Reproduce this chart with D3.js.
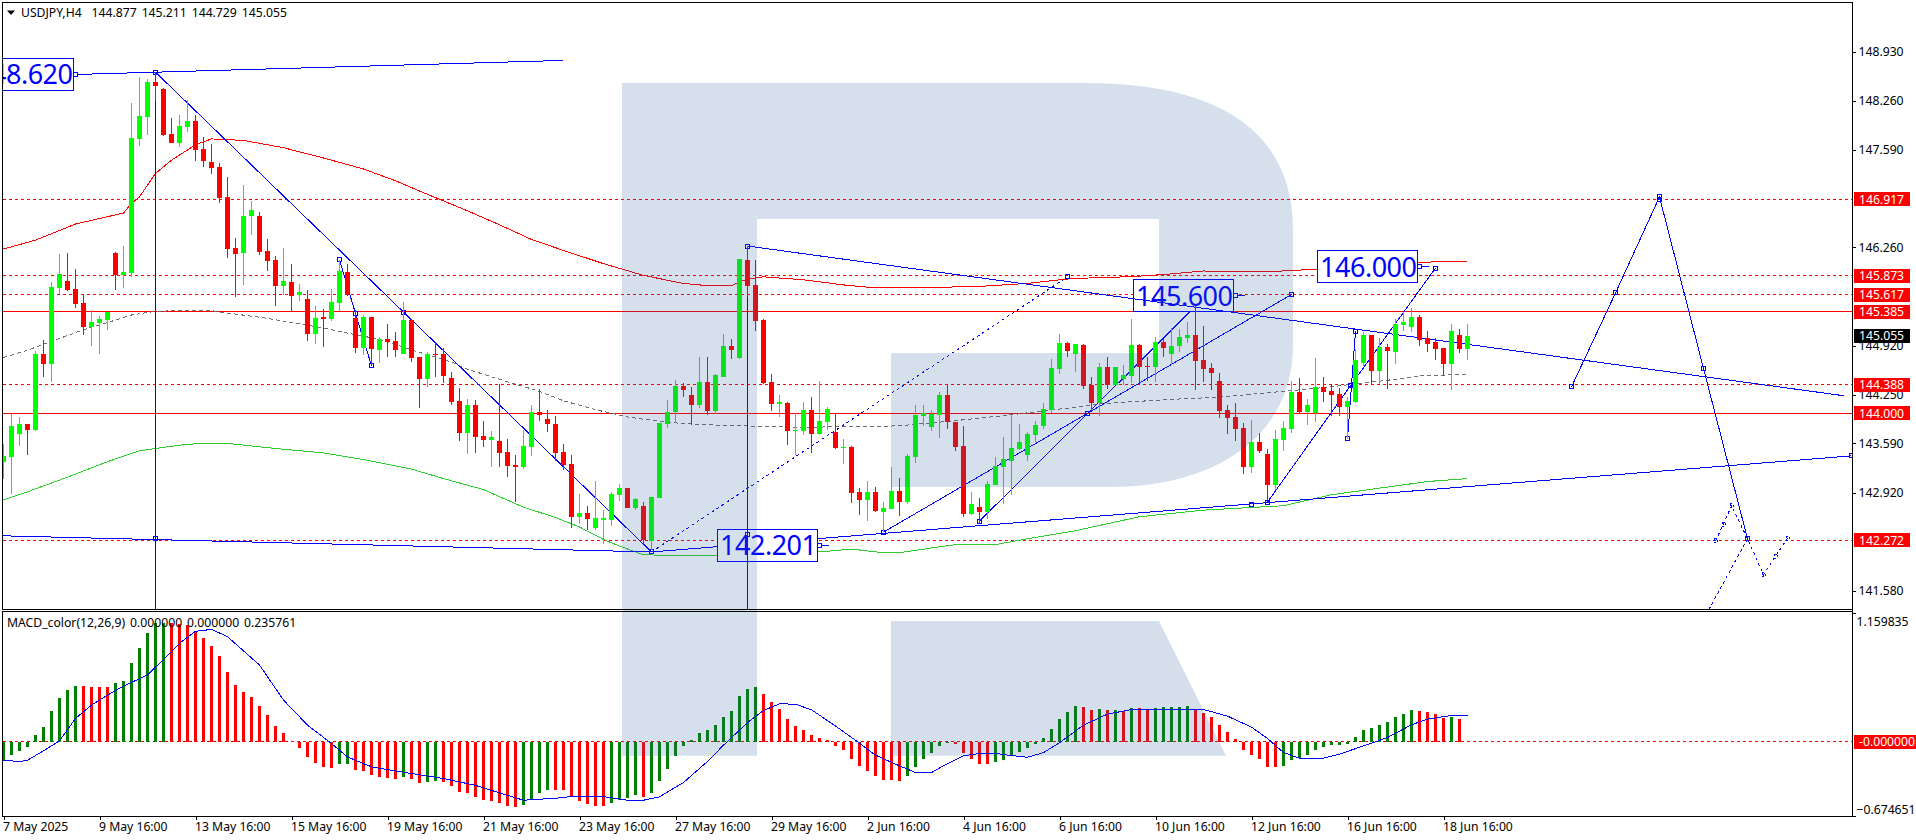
<!DOCTYPE html>
<html><head><meta charset="utf-8">
<script src="https://cdn.jsdelivr.net/npm/d3@7/dist/d3.min.js"></script>
<style>html,body{margin:0;padding:0;background:#fff;overflow:hidden}svg{display:block}
text{font-family:"Noto Sans",sans-serif;font-size:12.2px;letter-spacing:0;fill:#000;white-space:pre}</style>
</head><body><div id="c"></div>
<script>
const opens=[143.34,143.41,143.72,143.85,143.77,144.81,144.67,145.71,145.80,145.69,
145.50,145.18,145.23,145.27,146.19,145.89,145.91,147.74,148.04,148.52,
148.42,147.81,147.68,147.90,147.98,147.60,147.43,147.36,146.95,146.25,
146.19,146.69,146.69,146.21,146.09,145.74,145.79,145.61,145.56,145.08,
145.31,145.29,145.50,145.93,145.30,144.89,145.31,144.86,145.01,144.99,
144.81,145.27,144.77,144.47,144.81,144.81,144.48,144.17,143.73,144.11,
143.69,143.64,143.62,143.47,143.30,143.27,143.54,144.02,143.92,143.85,
143.47,143.31,142.59,142.64,142.44,142.55,142.55,142.89,142.98,142.71,
142.74,142.26,142.85,143.85,144.02,144.37,144.25,144.11,144.43,144.03,
144.50,144.92,144.75,146.09,145.75,145.27,144.43,144.13,144.14,143.76,
143.76,144.05,143.72,143.88,143.75,143.53,143.54,142.93,142.82,142.93,
142.66,142.70,142.94,142.79,143.40,143.96,143.81,143.98,144.25,143.88,
143.55,142.63,142.72,142.66,143.02,143.27,143.35,143.51,143.43,143.70,
143.83,144.05,144.60,144.96,144.81,144.93,144.39,144.14,144.63,144.39,
144.47,144.51,144.93,144.65,144.63,144.97,144.81,144.92,145.03,145.07,
144.73,144.62,144.44,144.05,143.95,143.80,143.27,143.61,143.45,143.02,
143.64,143.79,144.29,144.02,144.00,144.36,144.30,144.26,144.09,144.15,
144.69,145.07,144.58,144.90,144.84,145.20,145.18,145.31,145.03,144.97,
144.89,144.67,145.07,144.877];
const highs=[143.58,143.99,143.95,143.86,144.85,145.00,145.79,146.17,146.19,145.97,
145.63,145.41,145.32,145.38,146.20,146.28,148.23,148.58,148.56,148.65,
148.44,148.03,148.07,148.27,148.07,147.77,147.67,147.41,147.22,146.39,
147.11,146.89,146.74,146.38,146.14,146.25,146.04,145.76,145.68,145.46,
145.42,145.69,146.09,146.04,145.41,145.34,145.31,145.04,145.22,145.11,
145.52,145.29,144.77,144.84,144.97,144.89,144.56,144.35,144.20,144.18,
143.90,143.76,144.40,143.65,143.43,143.77,144.11,144.33,144.05,143.96,
143.58,143.43,142.90,142.74,143.08,142.68,142.93,143.04,142.98,142.85,
142.79,142.86,143.87,144.18,144.45,144.41,144.36,144.77,144.77,144.54,
145.08,145.01,146.10,146.28,146.09,145.29,144.54,144.25,144.15,144.00,
144.15,144.22,144.44,144.09,144.00,143.65,143.55,142.98,143.08,143.00,
142.79,143.27,143.12,143.45,144.11,144.11,144.05,144.29,144.40,143.88,
143.83,142.93,142.85,143.08,143.40,143.68,143.98,143.85,143.75,143.90,
144.14,144.74,145.08,144.97,144.94,144.94,144.50,144.69,144.77,144.63,
144.66,145.29,144.94,144.77,145.04,145.01,145.16,145.15,145.24,145.46,
145.19,144.69,144.55,144.11,144.14,143.87,143.91,143.73,143.51,143.77,
143.90,144.44,144.48,144.20,144.75,144.50,144.40,144.35,144.22,144.88,
145.11,145.07,145.03,144.94,145.29,145.38,145.44,145.34,145.12,145.03,
144.89,145.22,145.15,145.211];
const lows=[143.10,142.90,143.55,143.43,143.76,144.50,144.43,145.62,145.67,145.44,
145.07,144.92,144.81,145.14,145.68,145.71,145.86,147.64,147.79,148.26,
147.78,147.68,147.63,147.83,147.44,147.36,147.26,146.87,146.12,145.59,
145.75,146.43,146.16,145.94,145.46,145.61,145.38,145.53,144.99,144.94,
144.90,145.26,145.39,145.60,144.82,144.80,144.66,144.69,144.77,144.77,
144.81,144.70,144.07,144.36,144.50,144.41,144.11,143.62,143.45,143.46,
143.54,143.27,143.27,143.13,142.79,143.24,143.42,143.90,143.75,143.35,
143.23,142.44,142.49,142.41,142.41,142.22,142.46,142.81,142.71,142.68,
142.22,142.14,142.85,143.80,143.87,144.22,143.84,144.07,143.98,143.99,
144.50,144.74,144.74,145.59,145.12,144.40,144.03,143.95,143.57,143.43,
143.70,143.46,143.70,143.77,143.51,143.31,142.78,142.61,142.53,142.66,
142.38,142.70,142.60,142.76,143.32,143.83,143.76,143.66,143.79,143.49,
142.59,142.61,142.51,142.56,143.02,142.76,142.89,143.50,143.35,143.61,
143.79,144.00,144.54,144.77,144.56,144.33,144.03,143.96,144.33,144.39,
144.39,144.41,144.41,144.44,144.43,144.77,144.66,144.84,144.96,144.32,
144.43,144.32,143.94,143.72,143.62,143.17,143.19,143.46,142.82,142.96,
143.49,143.73,144.00,143.84,143.88,144.15,143.96,143.96,143.65,144.14,
144.65,144.40,144.40,144.33,144.67,145.12,145.11,144.92,144.84,144.73,
144.51,144.32,144.82,144.729];
const closes=[143.42,143.83,143.85,143.77,144.81,144.67,145.72,145.90,145.68,145.49,
145.18,145.24,145.29,145.38,145.89,145.93,147.75,148.05,148.52,148.46,
147.79,147.68,147.92,147.98,147.59,147.44,147.34,146.93,146.24,146.17,
146.69,146.77,146.20,146.08,145.74,145.80,145.60,145.65,145.08,145.30,
145.29,145.52,145.94,145.61,144.89,145.31,144.88,145.01,144.97,144.86,
145.27,144.75,144.47,144.81,144.80,144.51,144.15,143.73,144.11,143.68,
143.64,143.68,143.46,143.28,143.27,143.55,144.02,143.98,143.85,143.46,
143.30,142.59,142.64,142.56,142.57,142.57,142.90,142.98,142.71,142.83,
142.27,142.86,143.87,144.02,144.37,144.32,144.11,144.43,144.03,144.52,
144.92,144.86,146.10,145.74,145.26,144.41,144.13,144.15,143.76,143.77,
144.05,143.72,143.90,144.06,143.53,143.54,142.91,142.82,142.93,142.67,
142.71,142.94,142.79,143.42,143.98,144.00,143.99,144.25,143.88,143.54,
142.63,142.76,142.66,143.04,143.28,143.38,143.53,143.61,143.72,143.84,
144.06,144.62,144.96,144.85,144.94,144.37,144.14,144.63,144.39,144.63,
144.52,144.93,144.63,144.63,144.97,144.89,144.92,145.04,145.07,144.71,
144.60,144.55,144.03,143.94,143.79,143.27,143.61,143.49,143.02,143.65,
143.80,144.29,144.02,144.11,144.36,144.29,144.25,144.09,144.17,144.73,
145.07,144.58,144.90,144.85,145.22,145.24,145.31,145.00,144.94,144.88,
144.67,145.12,144.88,145.055];

// moving averages as [bar index, price] readings
const maRed=[[0,146.24],[4,146.36],[9,146.58],[15,146.73],[16,146.86],[17,146.95],[19,147.27],[21,147.45],[24,147.66],[26,147.74],[30,147.72],[35,147.62],[40,147.48],[45,147.33],[49,147.17],[52,147.03],[58,146.76],[62,146.57],[66,146.37],[70,146.22],[75,146.04],[80,145.88],[85,145.77],[88,145.74],[91,145.74],[92,145.79],[93,145.83],[95,145.86],[100,145.82],[105,145.75],[108,145.72],[118,145.72],[122,145.73],[128,145.77],[132,145.82],[134,145.84],[138,145.85],[142,145.87],[146,145.90],[150,145.94],[155,145.93],[160,145.94],[165,145.97],[171,146.02],[177,146.06],[183,146.07]];
const maGray=[[0,144.76],[3,144.86],[7,145.02],[10,145.14],[14,145.27],[16,145.34],[19,145.39],[22,145.40],[26,145.40],[27,145.38],[32,145.31],[36,145.24],[41,145.14],[44,145.07],[47,145.01],[50,144.90],[52,144.83],[56,144.70],[58,144.60],[63,144.43],[67,144.30],[70,144.17],[74,144.05],[78,143.95],[82,143.89],[85,143.86],[89,143.84],[99,143.81],[110,143.82],[113,143.84],[119,143.90],[126,143.98],[133,144.07],[137,144.13],[146,144.19],[152,144.22],[157,144.27],[165,144.35],[173,144.45],[177,144.51],[183,144.53]];
const maGreen=[[0,142.82],[3,142.93],[8,143.13],[13,143.34],[17,143.49],[19,143.52],[23,143.58],[28,143.59],[34,143.52],[40,143.46],[45,143.37],[51,143.24],[55,143.11],[60,142.96],[65,142.72],[69,142.58],[72,142.45],[75,142.28],[77,142.19],[80,142.07],[88,142.06],[90,142.07],[102,142.11],[106,142.15],[109,142.11],[112,142.10],[117,142.18],[119,142.21],[124,142.21],[128,142.29],[134,142.40],[142,142.59],[150,142.68],[160,142.74],[166,142.89],[172,142.98],[178,143.07],[183,143.11]];

const macdHist=[-.169,-.123,-.087,-.051,.057,.130,.274,.392,.464,.500,.500,.491,.491,.491,.527,.545,.708,.843,.979,1.066,1.072,1.066,1.060,1.051,.997,.934,.861,.771,.627,.509,.446,.401,.319,.238,.139,.075,0,-.060,-.142,-.196,-.232,-.241,-.205,-.205,-.259,-.268,-.304,-.322,-.331,-.340,-.322,-.340,-.377,-.367,-.358,-.367,-.404,-.458,-.467,-.503,-.530,-.539,-.557,-.584,-.593,-.575,-.521,-.467,-.440,-.440,-.440,-.494,-.539,-.566,-.584,-.584,-.557,-.530,-.512,-.485,-.503,-.467,-.358,-.250,-.133,-.042,.012,.075,.102,.148,.220,.274,.410,.473,.491,.428,.355,.292,.202,.139,.102,.057,.030,.012,-.042,-.078,-.160,-.223,-.268,-.313,-.349,-.349,-.358,-.313,-.232,-.160,-.105,-.042,-.015,-.024,-.105,-.160,-.205,-.205,-.187,-.169,-.123,-.096,-.060,-.024,.030,.111,.202,.265,.319,.310,.283,.292,.283,.283,.274,.301,.301,.292,.301,.310,.310,.310,.319,.292,.256,.220,.148,.084,.021,-.078,-.123,-.160,-.232,-.232,-.223,-.169,-.151,-.123,-.078,-.051,-.033,-.033,-.024,.039,.102,.120,.148,.175,.220,.247,.283,.274,.265,.247,.211,.220,.202];
const macdColors="gggggggggg"+"rrrr"+"ggggggg"+"r".repeat(21)+"gg"+"rrrrrr"+"g"+"rr"+"gg"+"r".repeat(10)+"gggg"+"rrrrrrr"+"gggg"+"r"+"g".repeat(14)+"r".repeat(18)+"gggggg"+"rrrrr"+"g".repeat(11)+"rr"+"g"+"r"+"g"+"r"+"g"+"rr"+"ggggg"+"r".repeat(11)+"g".repeat(17)+"rrrr"+"g"+"r";
const macdSignal=[[0,-.169],[2,-.181],[3,-.169],[5,-.084],[7,.006],[9,.208],[11,.328],[13,.419],[15,.500],[18,.600],[20,.741],[22,.886],[24,.994],[26,1.012],[28,.946],[32,.690],[35,.374],[38,.148],[41,-.018],[43,-.139],[46,-.229],[51,-.289],[55,-.334],[59,-.396],[62,-.464],[65,-.530],[69,-.512],[71,-.497],[75,-.497],[78,-.530],[80,-.530],[82,-.500],[85,-.370],[88,-.180],[90,-.033],[93,.170],[95,.280],[97,.340],[99,.337],[101,.286],[104,.140],[107,-.015],[109,-.123],[112,-.220],[114,-.280],[116,-.280],[118,-.199],[120,-.130],[122,-.108],[124,-.108],[126,-.127],[128,-.142],[130,-.100],[132,-.012],[135,.148],[138,.247],[141,.289],[150,.289],[153,.229],[156,.130],[158,.027],[160,-.100],[162,-.150],[165,-.151],[167,-.114],[171,-.015],[173,.036],[176,.151],[178,.202],[181,.235],[183,.235]];

const priceTicks=[148.930,148.260,147.590,146.260,144.920,144.250,143.590,142.920,141.580];
const dashedLevels=[146.917,145.873,145.617,144.388,142.272];
const solidLevels=[145.385,144.000];
const lastPrice=145.055;
const macdTicks=[1.159835,-0.674651];
const timeTickBars=[0,12,24,36,48,60,72,84,96,108,120,132,144,156,168,180];
const timeTickLabels=["7 May 2025","9 May 16:00","13 May 16:00","15 May 16:00","19 May 16:00","21 May 16:00","23 May 16:00","27 May 16:00","29 May 16:00","2 Jun 16:00","4 Jun 16:00","6 Jun 16:00","10 Jun 16:00","12 Jun 16:00","16 Jun 16:00","18 Jun 16:00"];

// analysis objects as [bar index, price]
const trendLines=[
 [[0,148.59],[70,148.81]],
 [[0,142.33],[81,142.11]],
 [[81,142.11],[231,143.42]]];
const trendDown=[[93,146.28],[230,144.24]];
const waveLines=[
 [[19,148.65],[81,142.11]],
 [[42,146.09],[44,145.36],[46,144.65]],
 [[110,142.38],[135.5,144.00],[161,145.62]],
 [[122,142.53],[149,145.46]],
 [[158,142.79],[168.4,144.38],[179,145.98]],
 [[168,143.65],[169,145.12]],
 [[196,144.36],[201.5,145.64],[207,146.95],[212.5,144.61],[218,142.29]]];
const dottedLines=[
 [[81,142.11],[133,145.86]],
 [[218,142.29],[213.2,141.33]],
 [[214,142.26],[215,142.49],[216,142.74],[218,142.29],[220,141.80],[221.5,142.05],[223,142.30]]];
const squares=[[19,148.65],[19,142.30],[81,142.11],[93,146.28],[93,142.35],[42,146.09],[44,145.36],[46,144.65],[50,145.38],[110,142.38],[122,142.53],[135.5,144.00],[133,145.86],[156,142.76],[158,142.79],[161,145.62],[168,143.65],[169,145.12],[168.4,144.38],[179,145.98],[196,144.36],[201.5,145.64],[207,146.95],[207,146.92],[212.5,144.61],[218,142.29],[231,143.42]];
const dashedSquares=[[214,142.26],[215,142.49],[216,142.74],[220,141.80],[221.5,142.05],[223,142.30]];
const verticals=[[19,148.65],[93,146.28]];
const labelTexts=["148.620","142.201","145.600","146.000"];
const labelBars=[2.5,95.5,147.5,170.5];
const labelPrices=[148.62,142.201,145.60,146.00];

// layout
const W=1916,H=840,axisX=1852.5,mainTop=2.5,mainBot=609.5,macdTop=611.5,macdBot=816.5,leftX=2.5;
const BLUE="#0000ff";
const FONT='"Noto Sans",sans-serif';
const x=d3.scaleLinear().domain([0,183]).range([3.5,1467.5]);
const y=d3.scaleLinear().domain([144,146.917]).range([413.3,199.3]);
const ym=d3.scaleLinear().domain([0,1.159835]).range([741.5,613]);
const svg=d3.select("#c").append("svg").attr("width",W).attr("height",H).attr("viewBox",`0 0 ${W} ${H}`);
svg.append("defs").append("clipPath").attr("id","mainClip").append("rect").attr("x",3).attr("y",3).attr("width",axisX-3).attr("height",mainBot-3);
const main=svg.append("g").attr("clip-path","url(#mainClip)").attr("shape-rendering","crispEdges");
const line=d3.line().x(d=>x(d[0])).y(d=>y(d[1]));

// levels
main.selectAll(".lvl").data(dashedLevels).join("line").attr("x1",leftX).attr("x2",axisX).attr("y1",d=>y(d)).attr("y2",d=>y(d)).attr("stroke","#ff0000").attr("stroke-dasharray","3,3");
main.selectAll(".sol").data(solidLevels).join("line").attr("x1",leftX).attr("x2",axisX).attr("y1",d=>y(d)).attr("y2",d=>y(d)).attr("stroke","#ff0000");
// moving averages
main.append("path").attr("d",line(maRed)).attr("fill","none").attr("stroke","#ff0000");
main.append("path").attr("d",line(maGreen)).attr("fill","none").attr("stroke","#32cd32");
main.append("path").attr("d",line(maGray)).attr("fill","none").attr("stroke","#707070").attr("stroke-dasharray","4,3");
// analysis lines
trendLines.forEach(l=>main.append("path").attr("d",line(l)).attr("fill","none").attr("stroke",BLUE));
waveLines.forEach(l=>main.append("path").attr("d",line(l)).attr("fill","none").attr("stroke",BLUE));
dottedLines.forEach(l=>main.append("path").attr("d",line(l)).attr("fill","none").attr("stroke",BLUE).attr("stroke-dasharray","3,3"));
// labels
const lb=main.selectAll(".lab").data(labelTexts).join("g");
lb.append("rect").attr("x",(d,i)=>x(labelBars[i])-50).attr("y",(d,i)=>y(labelPrices[i])-16).attr("width",100).attr("height",32).attr("fill","#fff").attr("stroke",BLUE);
lb.append("path").attr("d",(d,i)=>`M${x(labelBars[i])+50},${y(labelPrices[i])}h11`).attr("stroke",BLUE);
lb.append("rect").attr("x",(d,i)=>x(labelBars[i])+50).attr("y",(d,i)=>y(labelPrices[i])-2).attr("width",4).attr("height",4).attr("fill","#fff").attr("stroke",BLUE);
lb.append("text").attr("x",(d,i)=>x(labelBars[i])+49).attr("y",(d,i)=>y(labelPrices[i])+10).attr("text-anchor","end").style("font-size","27px").style("letter-spacing","-.5px").style("fill",BLUE).text(d=>d);
main.append("path").attr("d",line(trendDown)).attr("fill","none").attr("stroke",BLUE);
// verticals
verticals.forEach(v=>main.append("line").attr("x1",x(v[0])).attr("x2",x(v[0])).attr("y1",y(v[1])).attr("y2",mainBot).attr("stroke",BLUE));
main.selectAll(".sq").data(squares).join("rect").attr("x",d=>x(d[0])-2).attr("y",d=>y(d[1])-2).attr("width",4).attr("height",4).attr("fill","none").attr("stroke",BLUE);
main.selectAll(".dsq").data(dashedSquares).join("rect").attr("x",d=>x(d[0])-1.5).attr("y",d=>y(d[1])-2).attr("width",3).attr("height",4).attr("fill","none").attr("stroke",BLUE).attr("stroke-dasharray","2,2");
// candles
const col=i=>closes[i]>=opens[i]?"#00ff00":"#ff0000";
main.selectAll(".wick").data(opens).join("line").attr("x1",(d,i)=>x(i)).attr("x2",(d,i)=>x(i)).attr("y1",(d,i)=>y(highs[i])).attr("y2",(d,i)=>y(lows[i])).attr("stroke",(d,i)=>col(i));
main.selectAll(".body").data(opens).join("rect").attr("x",(d,i)=>x(i)-2.5).attr("width",5)
 .attr("y",(d,i)=>y(Math.max(opens[i],closes[i]))).attr("height",(d,i)=>Math.max(1,Math.abs(y(opens[i])-y(closes[i])))).attr("fill",(d,i)=>col(i));

// MACD pane
const mg=svg.append("g").attr("shape-rendering","crispEdges");
mg.append("line").attr("x1",leftX).attr("x2",axisX).attr("y1",ym(0)).attr("y2",ym(0)).attr("stroke","#ff0000").attr("stroke-dasharray","3,3");
mg.selectAll(".h").data(macdHist).join("rect").attr("x",(d,i)=>x(i)-1.5).attr("width",3).attr("y",d=>Math.min(ym(d),ym(0))).attr("height",d=>Math.abs(ym(d)-ym(0))).attr("fill",(d,i)=>macdColors[i]==="g"?"#008000":"#ff0000");
mg.append("path").attr("d",d3.line().x(d=>x(d[0])).y(d=>ym(d[1]))(macdSignal)).attr("fill","none").attr("stroke",BLUE);

// watermark overlay
const logo=svg.append("g").attr("fill","rgb(45,100,160)").attr("opacity",.2);
logo.append("path").attr("d","M622,83H1085C1210,83 1293,125 1293,230V345C1293,440 1210,487 1110,487H891V353H1159V219H757V755.7H622Z");
logo.append("path").attr("d","M891,621H1159L1226,755.7H891Z");

// frames
const fr=svg.append("g").attr("shape-rendering","crispEdges").attr("stroke","#000").attr("fill","none");
fr.append("path").attr("d",`M${leftX},${mainBot}V${mainTop}H${axisX}V${macdBot}H${leftX}V${macdTop}H${axisX}M${leftX},${mainBot}H${axisX}`);

// axes
const ax=svg.append("g").attr("transform",`translate(${axisX},0)`).call(d3.axisRight(y).tickValues(priceTicks).tickFormat(d3.format(".3f")).tickSize(3).tickPadding(3));
ax.select(".domain").remove();
ax.selectAll("text").style("font-family",FONT).style("font-size","12.2px");
const axm=svg.append("g").attr("transform",`translate(${axisX},0)`).call(d3.axisRight(ym).tickValues(macdTicks).tickFormat(d3.format(".6f")).tickSize(3).tickPadding(1));
axm.select(".domain").remove();
axm.selectAll("text").style("font-family",FONT).style("font-size","12.2px").attr("dy",d=>d>0?"1.0em":"-0.25em");
const labelOf=d3.scaleOrdinal(timeTickBars,timeTickLabels);
const axb=svg.append("g").attr("transform",`translate(0,${macdBot})`).call(d3.axisBottom(x).tickValues(timeTickBars).tickFormat(d=>labelOf(d)).tickSize(3).tickPadding(3));
axb.select(".domain").remove();
axb.selectAll("text").attr("text-anchor","start").attr("dx","-1").style("font-family",FONT).style("font-size","12.2px");
svg.selectAll(".tick line").attr("shape-rendering","crispEdges");

// price tags
const tags=dashedLevels.concat(solidLevels).map(v=>({v,t:d3.format(".3f")(v),c:"#ff0000"})).concat([{v:lastPrice,t:d3.format(".3f")(lastPrice),c:"#000"}]);
const tg=svg.selectAll(".tag").data(tags).join("g");
tg.append("rect").attr("x",axisX+1.5).attr("width",56).attr("y",d=>Math.round(y(d.v))-7).attr("height",14).attr("fill",d=>d.c);
tg.append("text").attr("x",axisX+6.5).attr("y",d=>y(d.v)+4.5).style("fill","#fff").text(d=>d.t);
const zt=svg.append("g");
zt.append("rect").attr("x",axisX+1.5).attr("width",62).attr("y",Math.round(ym(0))-7).attr("height",14).attr("fill","#ff0000");
zt.append("text").attr("x",axisX+6.5).attr("y",ym(0)+4.5).style("fill","#fff").text("-0.000000");

// titles
svg.append("path").attr("d","M7,10.5h8l-4,4.5z").attr("fill","#000");
svg.append("text").attr("x",21).attr("y",17).style("word-spacing","1.8px").text("USDJPY,H4  144.877 145.211 144.729 145.055");
svg.append("text").attr("x",7).attr("y",627).style("word-spacing","1.8px").text("MACD_color(12,26,9) 0.000000 0.000000 0.235761");
</script></body></html>
